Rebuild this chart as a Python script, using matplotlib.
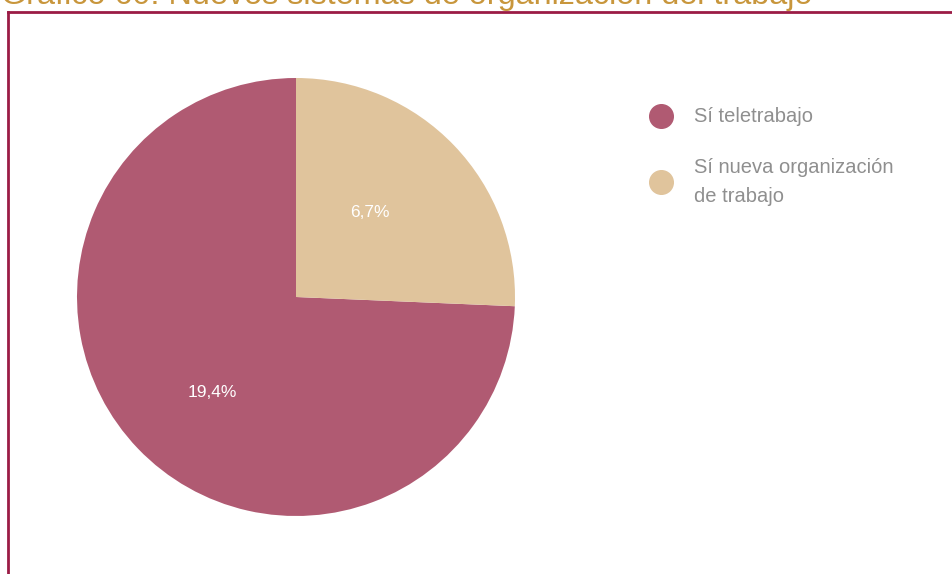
import numpy as np
import matplotlib.pyplot as plt
from matplotlib.lines import Line2D

# data
labels = ["Sí teletrabajo", "Sí nueva organización\nde trabajo"]
values = [19.4, 6.7]
pct_text = ["19,4%", "6,7%"]
colors = ["#B05A72", "#E0C49C"]
title = "Gráfico 60. Nuevos sistemas de organización del trabajo"

plt.rcParams['font.family'] = ['Liberation Sans', 'DejaVu Sans']

fig = plt.figure(figsize=(9.53, 5.74), dpi=100)

# title, partially cut off at the top like the original
fig.text(0.001, 1 - 4 / 574, title, color="#C8963C", fontsize=23.3,
         va="baseline", ha="left")

# frame lines
fig.add_artist(Line2D([8 / 953, 1], [1 - 12 / 574, 1 - 12 / 574], color="#9B1C45", lw=2))
fig.add_artist(Line2D([8 / 953, 8 / 953], [0, 1 - 12 / 574], color="#9B1C45", lw=2))

ax = fig.add_axes([77 / 953, 58 / 574, 438 / 953, 438 / 574])
wedges, _ = ax.pie(values, colors=colors, startangle=90, counterclock=True,
                   wedgeprops=dict(linewidth=0))
ax.set_xlim(-1, 1)
ax.set_ylim(-1, 1)
ax.set_aspect("equal")

# labels inside slices
dist = [0.58, 0.51]
for w, txt, d in zip(wedges, pct_text, dist):
    mid = np.deg2rad((w.theta1 + w.theta2) / 2 + 5)
    ax.text(d * np.cos(mid), d * np.sin(mid), txt, color="white",
            fontsize=12.5, ha="center", va="center")

# legend
leg_y = [116 / 574, 182 / 574]
for lab, col, y in zip(labels, colors, leg_y):
    fig.add_artist(Line2D([661 / 953], [1 - y], marker="o", markersize=17,
                          color=col, linestyle="none"))
    fig.text(694 / 953, 1 - y, lab, color="#8F8F8F", fontsize=14.5,
             va="center", ha="left", linespacing=1.7)

plt.savefig("out.png", dpi=100)
